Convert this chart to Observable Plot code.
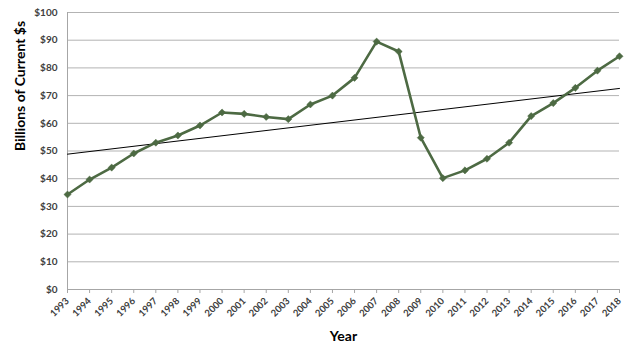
<!DOCTYPE html>
<html>
<head>
<meta charset="utf-8">
<script src="https://cdn.jsdelivr.net/npm/d3@7"></script>
<script src="https://cdn.jsdelivr.net/npm/@observablehq/plot@0.6"></script>
<style>
  html, body { margin: 0; padding: 0; background: #fff; }
  #chart { width: 640px; height: 356px; }
</style>
</head>
<body>
<div id="chart"></div>
<script>
const years = [1993, 1994, 1995, 1996, 1997, 1998, 1999, 2000, 2001, 2002, 2003, 2004, 2005,
               2006, 2007, 2008, 2009, 2010, 2011, 2012, 2013, 2014, 2015, 2016, 2017, 2018];
const values = [34.3, 39.7, 44.0, 49.1, 53.0, 55.6, 59.2, 63.9, 63.4, 62.3, 61.5, 66.8, 70.0,
                76.4, 89.5, 85.9, 54.8, 40.2, 43.0, 47.2, 53.0, 62.6, 67.3, 72.8, 79.0, 84.2];
const yTicks = [0, 10, 20, 30, 40, 50, 60, 70, 80, 90, 100];
const yTitle = "Billions of Current $s";
const xTitle = "Year";

const data = years.map((year, i) => ({year, value: values[i]}));
const green = "#4d6a43";

const chart = Plot.plot({
  width: 640,
  height: 356,
  marginLeft: 67,
  marginRight: 21,
  marginTop: 12,
  marginBottom: 67,
  style: {fontFamily: "Lato, 'Open Sans', sans-serif", background: "#fff", color: "#000"},
  x: {domain: [1993, 2018], label: null},
  y: {domain: [0, 100], label: null},
  marks: [
    Plot.gridY(yTicks, {stroke: "#b3b3b3", strokeOpacity: 1}),
    Plot.ruleX([1993], {stroke: "#a6a6a6"}),
    Plot.ruleY([0], {stroke: "#a6a6a6"}),
    Plot.axisY(yTicks, {
      tickSize: 0, tickPadding: 10, tickFormat: d => "$" + d,
      fontSize: 10, fontWeight: "bold", fill: "#404040", label: null
    }),
    Plot.axisX(years, {
      tickSize: 4, tickPadding: 6, stroke: "#a6a6a6", fill: "#404040",
      tickRotate: -45, textAnchor: "end", lineAnchor: "middle",
      tickFormat: d => String(d), fontSize: 9.5, fontWeight: "bold", label: null
    }),
    Plot.linearRegressionY(data, {x: "year", y: "value", ci: 0, stroke: "#000", strokeWidth: 1}),
    Plot.line(data, {x: "year", y: "value", stroke: green, strokeWidth: 2.6}),
    Plot.dot(data, {x: "year", y: "value", symbol: "diamond2", r: 3.2, fill: green, stroke: green, strokeWidth: 0.5}),
    Plot.text([yTitle], {text: d => d, frameAnchor: "left", dx: -47, rotate: -90,
      fontSize: 14, fontWeight: "bold", fill: "#000"}),
    Plot.text([xTitle], {text: d => d, frameAnchor: "bottom", dy: 51,
      fontSize: 14, fontWeight: "bold", fill: "#000"})
  ]
});
document.getElementById("chart").appendChild(chart);
</script>
</body>
</html>
